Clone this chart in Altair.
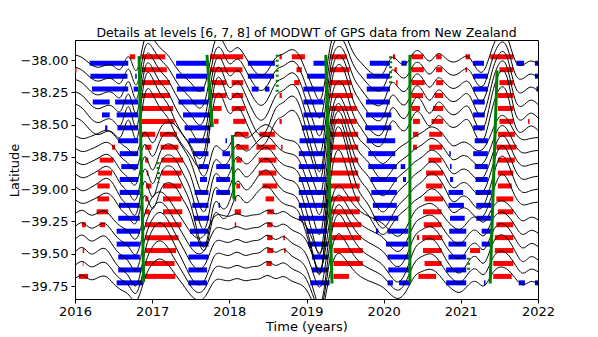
import altair as alt
import pandas as pd

# ---------------- data ----------------
ROW_LATS = [-38.0 - 0.1 * k for k in range(18)]
AMPS = [0.8, 0.9, 1.0, 1.1, 1.2, 1.1, 0.8, 0.9, 1.0, 1.1, 1.2, 1.0, 0.9, 1.0, 1.1, 1.2, 1.0, 0.8]
TIMES = [round(2016.0 + 0.1 * i, 1) for i in range(61)]

PROFILE_UPPER = [0.05, 0.02, -0.04, -0.07, -0.05, -0.06, -0.08, 0.03, -0.10, 0.20,
                 0.22, 0.12, 0.05, -0.06, -0.15, -0.22, -0.30, -0.20, 0.15, 0.20,
                 0.08, 0.12, 0.04, -0.08, -0.15, -0.10, 0.02, 0.06, 0.10, 0.05,
                 -0.12, -0.30, -0.35, 0.10, 0.30, 0.25, 0.08, -0.02, -0.10, -0.15,
                 -0.12, 0.02, -0.02, -0.03, 0.08, 0.06, -0.01, 0.06, 0.02, -0.02,
                 0.01, 0.03, -0.08, -0.10, 0.10, 0.25, 0.22, 0.00, -0.05, -0.01, -0.04]
PROFILE_MIDDLE = [0.02, -0.01, 0.01, 0.04, 0.07, 0.03, -0.06, -0.12, -0.15, 0.05,
                  -0.05, 0.08, 0.15, 0.12, 0.02, -0.10, -0.30, -0.35, -0.10, -0.12,
                  -0.08, 0.05, 0.00, 0.03, 0.10, 0.12, 0.05, -0.01, -0.03, -0.08,
                  -0.25, -0.45, -0.50, 0.10, 0.40, 0.30, 0.10, -0.03, -0.10, -0.20,
                  -0.25, -0.18, -0.10, -0.05, 0.01, 0.05, 0.10, 0.08, 0.00, -0.08,
                  -0.05, -0.06, -0.12, -0.10, 0.05, 0.20, 0.18, 0.05, -0.02, -0.01, 0.00]
PROFILE_LOWER = [0.01, 0.04, 0.00, 0.02, 0.03, -0.04, -0.10, -0.15, -0.20, 0.00,
                 0.15, 0.20, 0.15, 0.05, -0.05, -0.15, -0.20, -0.15, -0.02, 0.00,
                 -0.01, 0.01, -0.01, 0.00, 0.01, 0.04, 0.01, 0.03, -0.01, -0.04,
                 -0.10, -0.25, -0.30, 0.05, 0.25, 0.20, 0.10, 0.03, -0.01, -0.04,
                 -0.08, -0.15, -0.18, -0.10, 0.03, 0.08, 0.10, 0.06, -0.03, -0.10,
                 -0.12, -0.05, -0.02, -0.06, 0.05, 0.12, 0.10, 0.02, -0.05, -0.02, -0.04]

BLUE = [
    [(2016.19, 2016.69), (2017.31, 2017.71), (2018.24, 2018.59), (2019.09, 2019.24), (2019.82, 2020.08), (2020.23, 2020.30), (2021.16, 2021.30), (2021.72, 2021.82), (2021.96, 2022.0)],
    [(2016.20, 2016.68), (2016.78, 2016.80), (2017.31, 2017.71), (2018.24, 2018.58), (2019.01, 2019.24), (2019.78, 2020.08), (2021.16, 2021.35), (2021.96, 2022.0)],
    [(2016.22, 2016.69), (2016.76, 2016.82), (2017.32, 2017.68), (2018.29, 2018.38), (2018.46, 2018.52), (2018.96, 2019.22), (2019.78, 2020.08), (2021.16, 2021.35), (2021.98, 2022.0)],
    [(2016.23, 2016.45), (2016.52, 2016.82), (2017.34, 2017.73), (2018.96, 2019.22), (2019.77, 2020.08), (2021.16, 2021.31)],
    [(2016.35, 2016.45), (2016.54, 2016.82), (2017.40, 2017.75), (2018.96, 2019.24), (2019.77, 2020.10), (2021.16, 2021.31)],
    [(2016.39, 2016.42), (2016.55, 2016.82), (2017.42, 2017.75), (2018.94, 2019.24), (2019.76, 2020.10), (2021.16, 2021.31)],
    [(2016.56, 2016.82), (2017.47, 2017.75), (2017.95, 2017.97), (2018.91, 2019.24), (2019.78, 2020.15), (2021.18, 2021.35)],
    [(2016.58, 2016.82), (2017.53, 2017.73), (2017.91, 2018.01), (2018.90, 2019.24), (2019.80, 2020.15), (2020.85, 2020.87), (2021.16, 2021.35)],
    [(2016.60, 2016.82), (2017.60, 2017.73), (2017.83, 2018.01), (2018.90, 2019.24), (2019.80, 2020.17), (2020.22, 2020.28), (2020.86, 2020.88), (2021.18, 2021.35)],
    [(2016.58, 2016.82), (2017.62, 2017.71), (2017.83, 2018.01), (2018.90, 2019.26), (2019.83, 2020.17), (2020.25, 2020.29), (2020.86, 2020.90), (2021.19, 2021.35)],
    [(2016.58, 2016.84), (2017.55, 2017.73), (2017.83, 2018.01), (2018.90, 2019.26), (2019.84, 2020.17), (2020.84, 2021.03), (2021.19, 2021.40)],
    [(2016.57, 2016.84), (2017.52, 2017.73), (2017.86, 2017.88), (2018.90, 2019.27), (2019.86, 2020.17), (2020.84, 2021.04), (2021.20, 2021.40)],
    [(2016.56, 2016.84), (2017.54, 2017.74), (2018.90, 2019.26), (2019.87, 2020.19), (2020.86, 2021.05), (2021.20, 2021.40)],
    [(2016.54, 2016.84), (2017.49, 2017.73), (2019.00, 2019.27), (2019.90, 2019.93), (2020.05, 2020.32), (2020.85, 2021.07), (2021.27, 2021.42)],
    [(2016.54, 2016.84), (2017.49, 2017.73), (2019.02, 2019.28), (2020.03, 2020.32), (2020.84, 2021.07), (2021.27, 2021.40)],
    [(2016.56, 2016.84), (2017.47, 2017.73), (2019.07, 2019.28), (2020.05, 2020.34), (2020.84, 2021.07)],
    [(2016.56, 2016.86), (2017.47, 2017.71), (2019.07, 2019.28), (2020.06, 2020.34), (2020.81, 2021.07)],
    [(2016.54, 2016.88), (2017.47, 2017.71), (2019.05, 2019.30), (2020.05, 2020.12), (2020.20, 2020.34), (2020.81, 2021.07), (2021.30, 2021.32), (2021.75, 2021.83), (2021.96, 2022.0)],
]
RED = [
    [(2016.71, 2016.78), (2016.86, 2017.17), (2017.75, 2018.18), (2018.65, 2018.68), (2018.81, 2018.98), (2019.30, 2019.52), (2020.12, 2020.15), (2020.36, 2020.51), (2020.68, 2020.75), (2021.06, 2021.12), (2021.38, 2021.68)],
    [(2016.0, 2016.02), (2016.86, 2017.19), (2017.75, 2018.17), (2018.87, 2018.94), (2019.30, 2019.56), (2020.14, 2020.17), (2020.36, 2020.52), (2020.68, 2020.76), (2021.06, 2021.08), (2021.50, 2021.68)],
    [(2016.86, 2017.23), (2017.77, 2017.96), (2018.03, 2018.18), (2018.84, 2018.91), (2019.30, 2019.58), (2020.16, 2020.18), (2020.36, 2020.53), (2020.68, 2020.77), (2021.50, 2021.68)],
    [(2016.86, 2017.23), (2017.77, 2017.96), (2018.03, 2018.18), (2018.65, 2018.68), (2019.30, 2019.60), (2020.36, 2020.51), (2020.66, 2020.77), (2021.48, 2021.68)],
    [(2016.86, 2017.27), (2017.79, 2017.90), (2018.03, 2018.20), (2019.30, 2019.65), (2020.36, 2020.47), (2020.64, 2020.77), (2021.48, 2021.68)],
    [(2016.86, 2017.29), (2017.80, 2017.86), (2018.05, 2018.21), (2018.65, 2018.68), (2019.30, 2019.65), (2020.38, 2020.47), (2020.62, 2020.77), (2021.50, 2021.68), (2021.87, 2021.89)],
    [(2016.86, 2017.04), (2017.10, 2017.32), (2018.07, 2018.25), (2018.39, 2018.59), (2019.30, 2019.67), (2020.38, 2020.45), (2020.59, 2020.76), (2021.48, 2021.70)],
    [(2016.48, 2016.52), (2016.91, 2016.99), (2017.11, 2017.34), (2018.09, 2018.25), (2018.35, 2018.60), (2018.67, 2018.69), (2019.30, 2019.67), (2020.38, 2020.43), (2020.59, 2020.76), (2021.46, 2021.72)],
    [(2016.32, 2016.50), (2016.91, 2016.95), (2017.12, 2017.40), (2018.09, 2018.16), (2018.38, 2018.61), (2019.30, 2019.67), (2020.58, 2020.75), (2021.48, 2021.70)],
    [(2016.30, 2016.48), (2016.93, 2016.95), (2017.12, 2017.38), (2018.38, 2018.61), (2019.30, 2019.67), (2020.55, 2020.77), (2021.48, 2021.68)],
    [(2016.29, 2016.45), (2016.92, 2016.99), (2017.14, 2017.38), (2018.09, 2018.14), (2018.43, 2018.62), (2019.30, 2019.69), (2020.55, 2020.76), (2021.48, 2021.66)],
    [(2016.29, 2016.44), (2016.91, 2016.95), (2017.14, 2017.38), (2018.07, 2018.09), (2018.47, 2018.58), (2019.30, 2019.69), (2020.53, 2020.77), (2021.46, 2021.68)],
    [(2016.28, 2016.43), (2016.91, 2016.97), (2017.14, 2017.39), (2018.07, 2018.15), (2018.49, 2018.58), (2019.32, 2019.69), (2020.51, 2020.75), (2021.48, 2021.68)],
    [(2016.09, 2016.14), (2016.32, 2016.39), (2016.91, 2017.38), (2018.07, 2018.09), (2018.49, 2018.56), (2019.32, 2019.71), (2020.52, 2020.75), (2021.46, 2021.68)],
    [(2016.91, 2017.34), (2018.49, 2018.56), (2018.70, 2018.72), (2019.32, 2019.71), (2020.43, 2020.46), (2020.50, 2020.76), (2021.44, 2021.68)],
    [(2016.10, 2016.12), (2016.91, 2017.31), (2018.49, 2018.57), (2018.71, 2018.73), (2019.35, 2019.73), (2020.51, 2020.75), (2021.12, 2021.25), (2021.44, 2021.68)],
    [(2016.10, 2016.11), (2016.91, 2017.29), (2018.48, 2018.55), (2019.35, 2019.73), (2020.53, 2020.75), (2021.42, 2021.68)],
    [(2016.05, 2016.17), (2016.91, 2017.30), (2019.35, 2019.55), (2020.45, 2020.68), (2021.42, 2021.66)],
]

GREEN_SOLID = [
    (2016.83, -37.97, 2016.89, -39.72),
    (2017.71, -37.96, 2017.78, -38.52),
    (2018.04, -38.58, 2018.06, -39.08),
    (2019.25, -37.96, 2019.33, -39.73),
    (2020.34, -37.96, 2020.34, -39.72),
    (2021.47, -38.08, 2021.38, -39.73),
]
GREEN_DOTTED = [
    (2017.075, -38.79, 2017.085, -38.95),
    (2018.62, -37.96, 2018.62, -38.25),
    (2020.09, -37.97, 2020.09, -38.18),
    (2021.10, -39.53, 2021.10, -39.63),
]

TITLE = "Details at levels [6, 7, 8] of MODWT of GPS data from New Zealand"
Y_TICKS = [-38.0, -38.25, -38.5, -38.75, -39.0, -39.25, -39.5, -39.75]
X_TICKS = [2016, 2017, 2018, 2019, 2020, 2021, 2022]

# ---------------- tables ----------------
profiles = [PROFILE_UPPER, PROFILE_MIDDLE, PROFILE_LOWER]
curve_rows = []
for k, lat in enumerate(ROW_LATS):
    prof = profiles[k // 6]
    for t, v in zip(TIMES, prof):
        curve_rows.append({"t": t, "y": lat + AMPS[k] * v, "row": k})
curves = pd.DataFrame(curve_rows)

bar_rows = []
for k, lat in enumerate(ROW_LATS):
    for a, b in BLUE[k]:
        bar_rows.append({"t0": a, "t1": b, "lat": lat - 0.025, "c": "blue"})
    for a, b in RED[k]:
        bar_rows.append({"t0": a, "t1": b, "lat": lat + 0.025, "c": "red"})
bars = pd.DataFrame(bar_rows)

gs = pd.DataFrame([{"t0": a, "y0": b, "t1": c, "y1": d} for a, b, c, d in GREEN_SOLID])
gd = pd.DataFrame([{"t0": a, "y0": b, "t1": c, "y1": d} for a, b, c, d in GREEN_DOTTED])

FONT = "DejaVu Sans"
xs = alt.Scale(domain=[2016, 2022], nice=False, zero=False)
ys = alt.Scale(domain=[-39.85, -37.845], nice=False, zero=False)

xax = alt.Axis(values=X_TICKS, format="d", title="Time (years)", grid=False, tickSize=4,
               labelFontSize=13, titleFontSize=13, labelFont=FONT, titleFont=FONT,
               labelColor="black", titleColor="black", domainColor="black", tickColor="black",
               labelPadding=2, titlePadding=2, titleFontWeight="normal", labelFlush=False,
               labelOverlap=False)
yax = alt.Axis(values=Y_TICKS, title="Latitude", grid=False, tickSize=4,
               labelExpr="replace(format(datum.value, '.2f'), '-', '\u2212')",
               labelFontSize=13, titleFontSize=13, labelFont=FONT, titleFont=FONT,
               labelColor="black", titleColor="black", domainColor="black", tickColor="black",
               labelPadding=3, titleFontWeight="normal", labelOverlap=False,
               titleX=-54, titleY=130, titleAngle=270, titleAlign="center", titleBaseline="bottom")

bar_layer = alt.Chart(bars).mark_rule(strokeWidth=5, strokeCap="butt", clip=True).encode(
    x=alt.X("t0:Q", scale=xs, axis=xax),
    x2="t1:Q",
    y=alt.Y("lat:Q", scale=ys, axis=yax),
    color=alt.Color("c:N", scale=alt.Scale(domain=["blue", "red"], range=["#0000ff", "#ff0000"]), legend=None),
)

curve_layer = alt.Chart(curves).mark_line(color="black", strokeWidth=1, interpolate="natural", clip=True).encode(
    x=alt.X("t:Q", scale=xs, axis=xax),
    y=alt.Y("y:Q", scale=ys, axis=yax),
    detail="row:N",
)

green_layer = alt.Chart(gs).mark_rule(color="#008000", strokeWidth=3, clip=True).encode(
    x=alt.X("t0:Q", scale=xs, axis=xax), x2="t1:Q", y=alt.Y("y0:Q", scale=ys, axis=yax), y2="y1:Q"
)
green_dot_layer = alt.Chart(gd).mark_rule(color="#008000", strokeWidth=3, strokeDash=[2, 3], clip=True).encode(
    x=alt.X("t0:Q", scale=xs, axis=xax), x2="t1:Q", y=alt.Y("y0:Q", scale=ys, axis=yax), y2="y1:Q"
)

chart = alt.layer(bar_layer, curve_layer, green_layer, green_dot_layer).properties(
    width=463, height=259,
    title=alt.TitleParams(TITLE, fontSize=12.5, font=FONT, fontWeight="normal", color="black",
                          anchor="middle", offset=1),
    autosize=alt.AutoSizeParams(type="none"),
    padding={"left": 67, "top": 32, "right": 20, "bottom": 45},
).configure_view(stroke="black", strokeWidth=1).configure_axis(labelOverlap=False)

chart.save("out.html", embed_options={"renderer": "svg", "actions": False})
